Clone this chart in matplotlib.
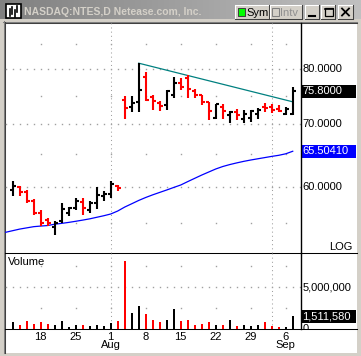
import matplotlib
matplotlib.use("Agg")
import matplotlib.pyplot as plt
import numpy as np
import pandas as pd
from matplotlib.patches import Rectangle
from matplotlib.colors import LinearSegmentedColormap
from matplotlib.transforms import blended_transform_factory, Bbox, TransformedBbox

plt.rcParams['font.family'] = ['Liberation Sans', 'DejaVu Sans']

title = "NASDAQ:NTES,D Netease.com, Inc."

# daily bars, NTES Jul-Sep 2005
dates = ["2005-07-12", "2005-07-13", "2005-07-14", "2005-07-15", "2005-07-18",
         "2005-07-19", "2005-07-20", "2005-07-21", "2005-07-22", "2005-07-25",
         "2005-07-26", "2005-07-27", "2005-07-28", "2005-07-29", "2005-08-01",
         "2005-08-02", "2005-08-03", "2005-08-04", "2005-08-05", "2005-08-08",
         "2005-08-09", "2005-08-10", "2005-08-11", "2005-08-12", "2005-08-15",
         "2005-08-16", "2005-08-17", "2005-08-18", "2005-08-19", "2005-08-22",
         "2005-08-23", "2005-08-24", "2005-08-25", "2005-08-26", "2005-08-29",
         "2005-08-30", "2005-08-31", "2005-09-01", "2005-09-02", "2005-09-06",
         "2005-09-07"]
opens = [59.6, 60.05, 59.35, 58.05, 56.4, 55.4, 54.4, 55.3, 56.3, 57.1,
         57.9, 56.8, 57.8, 58.75, 59.05, 60.2, 74.2, 72.9, 73.9, 78.6,
         74.8, 73.6, 73.4, 75.1, 77.3, 78.3, 75.9, 75.1, 73.8, 71.1,
         72.9, 71.5, 72.0, 70.9, 71.1, 71.7, 73.0, 73.0, 72.6, 71.7,
         71.7]
highs = [60.9, 60.2, 59.6, 58.3, 56.7, 55.6, 55.3, 57.8, 57.2, 58.4,
         58.4, 58.0, 60.0, 59.4, 60.9, 60.3, 74.9, 74.9, 81.2, 79.4,
         75.1, 74.0, 76.0, 78.5, 78.4, 78.9, 76.2, 75.2, 73.9, 73.5,
         73.5, 72.2, 72.7, 72.4, 72.5, 72.8, 73.7, 73.5, 73.3, 73.0,
         76.7]
lows = [58.8, 58.7, 57.7, 56.1, 54.6, 54.6, 53.4, 55.0, 56.0, 56.8,
        56.1, 56.3, 56.9, 58.0, 58.4, 59.4, 70.8, 72.1, 72.1, 74.1,
        72.4, 72.2, 72.4, 74.6, 76.0, 74.6, 74.5, 73.3, 70.7, 70.9,
        70.9, 70.1, 70.7, 70.2, 70.4, 70.9, 72.0, 71.9, 72.0, 71.5,
        71.5]
closes = [60.2, 59.3, 58.05, 56.3, 54.95, 55.0, 55.0, 56.9, 57.0, 58.05,
          57.0, 57.8, 58.9, 59.05, 60.5, 59.9, 72.8, 73.6, 76.0, 74.2,
          74.0, 73.1, 75.8, 77.4, 76.6, 76.2, 75.1, 73.9, 72.3, 73.5,
          72.2, 72.0, 71.5, 71.8, 72.2, 72.4, 72.8, 72.5, 72.2, 72.6,
          75.8]
volumes = [830000, 520000, 990000, 630000, 870000, 630000, 520000, 990000, 280000, 520000,
           520000, 400000, 520000, 320000, 710000, 990000, 8050000, 1940000, 2780000, 1830000,
           1110000, 870000, 1110000, 2420000, 990000, 1110000, 520000, 630000, 870000, 520000,
           520000, 1110000, 400000, 520000, 400000, 440000, 870000, 400000, 200000, 280000,
           1511580]
# moving average, starts one session before dates[0]
ma50 = [53.76, 53.97, 54.18, 54.34, 54.50, 54.58, 54.65, 54.83, 54.94, 55.07,
        55.22, 55.38, 55.55, 55.76, 55.97, 56.21, 56.62, 57.17, 57.63, 58.10,
        58.52, 58.90, 59.25, 59.60, 59.97, 60.33, 60.83, 61.32, 61.81, 62.27,
        62.73, 63.11, 63.41, 63.67, 63.91, 64.12, 64.31, 64.50, 64.69, 64.86,
        65.10, 65.5041]
trend_idx = [18, 40]
trend_px = [81.2, 73.9]
price_levels = [55, 60, 65, 70, 75, 80, 85]
vol_levels = [2500000, 5000000, 7500000]

W, H = 361, 356
FRAME = '#d4d0c8'
GRID = '#a0a0a0'
RED = '#ff0000'

fig = plt.figure(figsize=(W / 100, H / 100), dpi=100)
fig.patch.set_facecolor(FRAME)

# window chrome, drawn in pixel coords
bg = fig.add_axes([0, 0, 1, 1])
bg.set_zorder(-1)
grad = LinearSegmentedColormap.from_list('cap', ['#808080', '#c0c0c0'])
bg.imshow(np.linspace(0, 1, 256)[None, :], extent=(0, W, 19, 0), cmap=grad, aspect='auto')
bg.set_xlim(0, W)
bg.set_ylim(H, 0)
bg.axis('off')

bg.add_patch(Rectangle((5, 23), 352, 330, fc='white', lw=0))
bg.plot([3, 357], [21.5, 21.5], color='#808080', lw=0.75)
bg.plot([4, 357], [22.5, 22.5], color='#404040', lw=0.75)
bg.plot([3.5, 3.5], [21, 353], color='#808080', lw=0.75)
bg.plot([4.5, 4.5], [22, 353], color='#404040', lw=0.75)

# title bar
bg.add_patch(Rectangle((6, 4), 15, 14, fc='white', ec='black', lw=1.2))
for gx, g0, g1 in [(9.5, 9, 16), (12, 7, 14), (14.5, 10, 17), (17, 6, 12)]:
    bg.plot([gx, gx], [g0, g1], color='black', lw=1.2)
bg.text(24, 12, title, color=FRAME, fontsize=7.5, fontweight='bold', va='center', ha='left')


def button(x0, y0, x1, y1):
    bg.add_patch(Rectangle((x0, y0), x1 - x0, y1 - y0, fc=FRAME, lw=0))
    bg.plot([x0, x1], [y0, y0], color='white', lw=0.75)
    bg.plot([x0, x0], [y0, y1], color='white', lw=0.75)
    bg.plot([x0, x1], [y1, y1], color='#404040', lw=0.75)
    bg.plot([x1, x1], [y0, y1], color='#404040', lw=0.75)


button(235, 5, 269, 19)
bg.add_patch(Rectangle((237.5, 7.5), 7, 8, fc='#00ff00', ec='#404040', lw=0.75))
bg.text(246, 12.5, "Sym", fontsize=8, va='center', ha='left', color='black')
button(269.5, 5, 302, 19)
bg.add_patch(Rectangle((271.5, 7.5), 7, 8, fc=FRAME, ec='#808080', lw=0.75))
bg.text(280, 12.5, "Intv", fontsize=8, va='center', ha='left', color='#909090')
button(305, 5, 319, 19)
bg.plot([308.5, 314.5], [15.5, 15.5], color='black', lw=1.5)
button(321, 5, 335, 19)
bg.add_patch(Rectangle((324.5, 8), 8, 8, fc='none', ec='black', lw=0.9))
bg.plot([324.5, 332.5], [8.5, 8.5], color='black', lw=1.2)
button(338, 5, 353, 19)
bg.plot([342, 349], [8.5, 15.5], color='black', lw=1.3)
bg.plot([342, 349], [15.5, 8.5], color='black', lw=1.3)

# chart panes
x_left, x_right = 5, 300.5
y_top, y_mid, y_bot = 23, 253, 329
pw = (x_right - x_left) / W
ax_p = fig.add_axes([x_left / W, 1 - y_mid / H, pw, (y_mid - y_top) / H])
ax_v = fig.add_axes([x_left / W, 1 - y_bot / H, pw, (y_bot - y_mid) / H], sharex=ax_p)

n = len(dates)
d = pd.to_datetime(dates)
x = np.arange(n)
o = np.array(opens)
c = np.array(closes)
colors = np.where(c >= o, 'black', RED)

for ax in (ax_p, ax_v):
    ax.set_facecolor('none')
    for s in ('left', 'top', 'bottom'):
        ax.spines[s].set_visible(False)
    ax.spines['right'].set_linewidth(1.0)
    ax.tick_params(left=False, labelleft=False)

ax_p.set_yscale('log')
ax_p.set_ylim(51.11, 89.56)
ax_p.yaxis.set_major_locator(plt.NullLocator())
ax_p.yaxis.set_minor_locator(plt.NullLocator())
ax_p.set_xlim(-1.1, 41.11)
ax_p.tick_params(bottom=False, labelbottom=False)
ax_v.set_ylim(0, 9.05e6)
ax_v.yaxis.set_major_locator(plt.NullLocator())

dow = d.dayofweek
week_idx = [i for i in range(1, n) if dow[i] < dow[i - 1]]
month_idx = [i for i in range(1, n) if d.month[i] != d.month[i - 1]]

# dotted grid: labelled levels dot every session, others only on week lines
x_all = np.arange(-1, n + 1)
for ax, levels, major in ((ax_p, price_levels, 10), (ax_v, vol_levels, 5000000)):
    for v in levels:
        xs = x_all if v % major == 0 else np.array(week_idx)
        ax.plot(xs, [v] * len(xs), ls='none', marker='s', ms=1.0, mew=0, color=GRID, zorder=1)
    for m in month_idx:
        ax.axvline(m, color=GRID, lw=0.75, ls=(0, (1, 3)), zorder=1)

# price bars
ax_p.vlines(x, lows, highs, colors=colors, lw=1.5, zorder=3)
ax_p.hlines(opens, x - 0.45, x, colors=colors, lw=1.5, zorder=3)
ax_p.hlines(closes, x, x + 0.45, colors=colors, lw=1.5, zorder=3)
ax_p.plot(np.arange(-1, n), ma50, color='#0000ff', lw=0.9, zorder=2)
ax_p.plot(trend_idx, trend_px, color='#008080', lw=0.9, zorder=2)

# volume
ax_v.bar(x, volumes, width=0.3, color=colors, lw=0, zorder=3)

# separators across the whole chart
bg.plot([5, 357], [y_mid, y_mid], color='black', lw=0.75)
bg.plot([5, 357], [y_bot, y_bot], color='black', lw=0.75)

# right-hand scale
lx = 1 + 2 / (x_right - x_left)
tp = blended_transform_factory(ax_p.transAxes, ax_p.transData)
tv = blended_transform_factory(ax_v.transAxes, ax_v.transData)
for v in price_levels:
    if v % 10 == 0:
        ax_p.text(lx, v, f"{v:.4f}", transform=tp, va='center', ha='left', fontsize=8, clip_on=False)
ax_v.text(lx, 5000000, f"{5000000:,}", transform=tv, va='center', ha='left', fontsize=8, clip_on=False)
zero = ax_v.text(lx, 0, "0", transform=tv, va='center', ha='left', fontsize=8)
zero.set_clip_box(TransformedBbox(Bbox([[1.0, 0.0], [1.3, 1.0]]), ax_v.transAxes))
zero.set_clip_on(True)


def pix_y(ax, v):
    return H - ax.transData.transform((0, v))[1]


for ax, tr, v, txt, fc in ((ax_p, tp, closes[-1], f"{closes[-1]:.4f}", 'black'),
                           (ax_p, tp, ma50[-1], f"{ma50[-1]:.5f}", '#0000ff'),
                           (ax_v, tv, volumes[-1], f"{volumes[-1]:,}", 'black')):
    yc = pix_y(ax, v)
    bg.add_patch(Rectangle((301, yc - 6.3), 55, 12.6, fc=fc, lw=0))
    ax.text(lx, v, txt, transform=tr, va='center', ha='left', fontsize=8, color='white', clip_on=False)

bg.text(353, 249.5, "LOG", ha='right', va='baseline', fontsize=8)
bg.text(7.5, 265, "Volume", ha='left', va='baseline', fontsize=8)

# date axis: day of week start, month name under the first week of a new month
labels = []
for k, i in enumerate(week_idx):
    lab = str(d[i].day)
    if k > 0 and d[i].month != d[week_idx[k - 1]].month:
        lab += "\n" + d[i].strftime('%b')
    labels.append(lab)
ax_v.set_xticks(week_idx)
ax_v.set_xticklabels(labels)
ax_v.tick_params(axis='x', length=0, pad=2.5, labelsize=8)
for t in ax_v.get_xticklabels():
    t.set_linespacing(0.72)

fig.savefig("out.png", dpi=100, facecolor=fig.get_facecolor())
